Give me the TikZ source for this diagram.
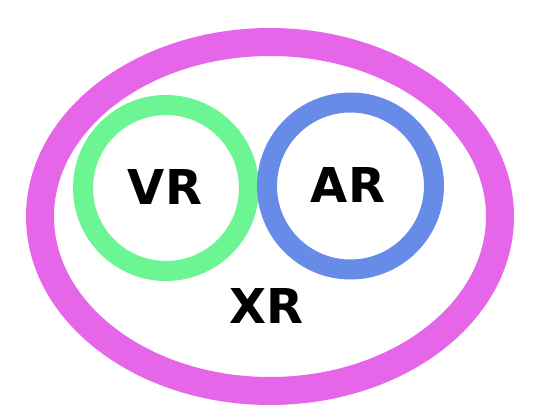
\documentclass[tikz,border=0pt]{standalone}
\usepackage{fontspec}
\setmainfont{DejaVu Sans}
\usepackage{xcolor}
\usepackage{tikz}
\usetikzlibrary{calc}
\definecolor{xrcolor}{HTML}{E666EA}
\definecolor{vrcolor}{HTML}{6CF593}
\definecolor{arcolor}{HTML}{668CE8}

\begin{document}
\begin{tikzpicture}[x=1pt,y=-1pt,
    ringlabel/.style={anchor=base, inner sep=0pt, font=\fontsize{48}{48}\selectfont\bfseries}]
                \useasboundingbox (0,0) rectangle (536,420);
                % XR ellipse
                \draw[xrcolor, line width=28pt] (270,216.5) ellipse (230 and 174.5);
                % VR and AR rings
                \draw[vrcolor, line width=20pt] (166,188) circle(83);
                \draw[arcolor, line width=20pt] (350.5,186) circle(83.5);
                \node[ringlabel] (vr) at (165,204) {VR};
                \node[ringlabel] (ar) at (348,202) {AR};
                \node[ringlabel] (xr) at (266,323) {XR};
            \end{tikzpicture}
\end{document}
